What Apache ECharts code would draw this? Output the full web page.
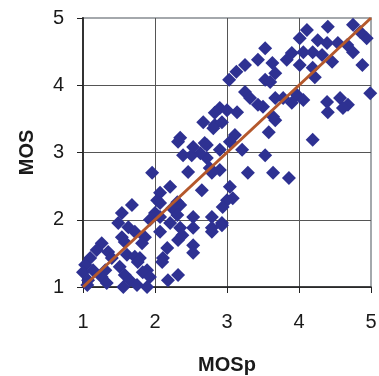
<!DOCTYPE html>
<html>
<head>
<meta charset="utf-8">
<script src="https://cdn.jsdelivr.net/npm/echarts@6/dist/echarts.min.js"></script>
<style>
  html, body { margin: 0; padding: 0; background: #fff; }
  #chart { width: 379px; height: 376px; }
</style>
</head>
<body>
<div id="chart"></div>
<script>
const mosp = [
  4.40, 4.75, 4.11, 4.94, 4.85, 4.01, 4.26, 4.39, 4.54, 4.67, 4.75, 4.46, 4.32, 4.19, 4.88, 4.06,
  3.90, 4.01, 3.83, 4.19, 4.22, 3.53, 3.63, 3.67, 3.53, 3.43, 3.25, 3.13, 3.03, 3.60, 3.25,
  4.99, 3.97, 3.67, 3.78, 4.06, 4.39, 4.57, 4.68, 3.90, 4.40, 4.61, 3.50, 3.32, 3.43, 2.90, 3.00, 3.14, 2.83,
  3.67, 3.58, 4.19, 2.67, 2.83, 2.93, 3.64, 3.11, 2.81, 2.35,
  3.53, 3.64, 3.86, 2.72, 2.90, 3.21, 2.72, 2.76, 2.90, 3.29, 2.32, 2.69, 2.63, 2.39, 2.51, 3.04, 2.53,
  1.96, 2.46, 2.79,
  2.65, 3.04, 2.21, 2.07, 2.03, 2.31, 2.35, 2.24, 3.00, 2.94, 3.08, 1.93, 2.07, 2.31, 2.53, 2.79, 2.93,
  2.21, 1.68, 1.54, 2.07, 2.00,
  2.53, 2.79, 2.35, 2.07, 2.17, 2.11, 2.32, 2.38, 2.53, 2.53, 2.79, 2.93, 1.79, 1.49, 1.63, 1.72, 1.86,
  1.54, 1.58, 1.82, 1.26, 1.19, 1.35, 1.10, 1.40, 1.61, 1.72, 1.76, 2.10,
  2.18, 2.32, 1.89, 1.89, 1.03, 1.00, 1.14, 1.31, 1.07, 1.26, 1.51, 1.58, 1.65, 1.83, 1.93, 1.75,
  1.06, 1.56, 1.33
];
const mos = [
  4.87, 4.90, 4.82, 4.70, 4.79, 4.70, 4.67, 4.63, 4.63, 4.60, 4.49, 4.35, 4.45, 4.49, 4.30, 4.49,
  4.48, 4.30, 4.38, 4.26, 4.12, 4.55, 4.33, 4.18, 4.08, 4.38, 4.30, 4.20, 4.08, 4.05, 3.90,
  3.88, 3.86, 3.81, 3.81, 3.78, 3.75, 3.81, 3.71, 3.74, 3.60, 3.66, 3.68, 3.81, 3.71, 3.66, 3.63, 3.60, 3.59,
  3.48, 3.30, 3.19, 3.45, 3.41, 3.45, 3.53, 3.26, 3.36, 3.22,
  2.96, 2.70, 2.62, 3.11, 3.04, 3.04, 2.92, 2.77, 2.74, 2.70, 3.16, 3.14, 2.99, 2.96, 2.96, 3.16, 3.08,
  2.70, 2.71, 2.70,
  2.44, 2.49, 2.49, 2.40, 2.29, 2.26, 2.22, 2.17, 2.29, 2.19, 2.32, 2.00, 2.04, 2.07, 2.04, 2.04, 1.95,
  1.95, 2.22, 2.10, 2.25, 2.10,
  1.88, 1.88, 1.88, 1.82, 1.58, 1.43, 1.70, 1.77, 1.62, 1.51, 1.82, 1.92, 1.43, 1.95, 1.89, 1.82, 1.74,
  1.74, 1.67, 1.65, 1.65, 1.55, 1.52, 1.43, 1.43, 1.48, 1.45, 1.37, 1.37,
  1.10, 1.18, 1.25, 1.00, 1.33, 1.22, 1.25, 1.25, 1.10, 1.15, 1.30, 1.18, 1.10, 1.22, 1.15, 1.03,
  1.03, 1.00, 1.06
];
const ticks = [1, 2, 3, 4, 5];
const fitLine = [[1, 1], [5, 5]];

const points = mosp.map((x, i) => [x, mos[i]]);

const chart = echarts.init(document.getElementById('chart'), null, { renderer: 'canvas' });

const labelFont = {
  fontFamily: 'Liberation Sans, Arial, sans-serif',
  fontSize: 20,
  color: '#1a1a1a'
};

chart.setOption({
  animation: false,
  grid: {
    left: 83,
    right: 8,
    top: 18,
    bottom: 89,
    outerBoundsMode: 'none',
    show: true,
    borderColor: '#a4a8ac',
    borderWidth: 2
  },
  xAxis: {
    type: 'value',
    min: ticks[0],
    max: ticks[ticks.length - 1],
    interval: 1,
    name: 'MOSp',
    nameLocation: 'middle',
    nameGap: 68,
    nameTextStyle: { ...labelFont, fontWeight: 'bold' },
    axisLine: { lineStyle: { color: '#222', width: 1.5 } },
    axisTick: { show: true, length: 6, lineStyle: { color: '#222' } },
    axisLabel: { ...labelFont, margin: 25 },
    splitLine: { show: true, lineStyle: { color: ['#444', '#555', '#555', '#555', '#a4a8ac'], width: 1 } }
  },
  yAxis: {
    type: 'value',
    min: ticks[0],
    max: ticks[ticks.length - 1],
    interval: 1,
    name: 'MOS',
    nameLocation: 'middle',
    nameGap: 46,
    nameTextStyle: { ...labelFont, fontWeight: 'bold' },
    axisLine: { lineStyle: { color: '#333', width: 2 } },
    axisTick: { show: true, length: 6, lineStyle: { color: '#222' } },
    axisLabel: { ...labelFont, margin: 19 },
    splitLine: { show: true, lineStyle: { color: ['#444', '#555', '#555', '#555', '#a4a8ac'], width: 1 } }
  },
  series: [
    {
      type: 'scatter',
      data: points,
      symbol: 'diamond',
      symbolSize: 14,
      itemStyle: { color: '#2e3192', opacity: 1 },
      z: 2
    },
    {
      type: 'line',
      data: fitLine,
      symbol: 'none',
      lineStyle: { color: '#b4582c', width: 3 },
      z: 3
    }
  ]
});
</script>
</body>
</html>
